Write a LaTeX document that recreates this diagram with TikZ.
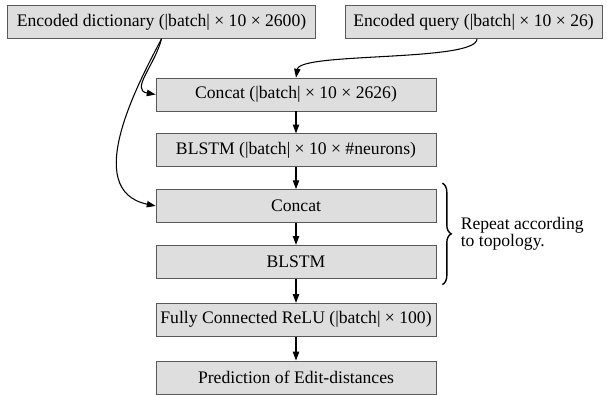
\documentclass[tikz,border=0pt]{standalone}
\usepackage{fontspec}
\setmainfont{Liberation Serif}
\usetikzlibrary{positioning, arrows.meta, calc, decorations.pathreplacing}

\begin{document}
\begin{tikzpicture}[
  x=0.567pt, y=-0.567pt,
  font=\normalsize,
  >={Triangle[length=5pt,width=3.6pt]},
  layerbox/.style={rectangle, draw=black!65, fill=black!13, minimum width=158.8pt, minimum height=18.7pt, inner sep=2pt, align=center},
  inputbox/.style={layerbox, minimum width=175pt},
  flowarrow/.style={->, draw=black, semithick},
]

% Inputs
\node[inputbox] (EncDict) at (161.5,22) {Encoded dictionary (|batch| × 10 × 2600)};
\node[inputbox, minimum width=145.7pt] (EncQuery) at (473.5,22) {Encoded query (|batch| × 10 × 26)};

% Layer stack
\node[layerbox] (ConcatA) at (296,94.5) {Concat (|batch| × 10 × 2626)};
\node[layerbox, below=12.5pt of ConcatA] (BlstmA) {BLSTM (|batch| × 10 × \#neurons)};
\node[layerbox, below=12.5pt of BlstmA] (ConcatB) {Concat};
\node[layerbox, below=12.5pt of ConcatB] (BlstmB) {BLSTM};
\node[layerbox, below=13.8pt of BlstmB] (FcRelu) {Fully Connected ReLU (|batch| × 100)};
\node[layerbox, below=13.6pt of FcRelu] (Predict) {Prediction of Edit-distances};

% Repeat brace
\draw[decorate, decoration={brace, amplitude=5pt}, thick]
  ([xshift=3.4pt, yshift=3.4pt]ConcatB.north east) -- ([xshift=3.4pt, yshift=-3.4pt]BlstmB.south east);
\node[anchor=west, align=left, inner sep=0pt] (RepeatNote) at ($(ConcatB.north east)!0.5!(BlstmB.south east) + (24,0)$) {Repeat according\\[-2.5pt]to topology.};

% Routing from inputs
\draw[flowarrow] (EncDict.south) .. controls (155,65) and (130,90) .. (ConcatA.west);
\draw[flowarrow] (EncDict.south) .. controls (140,80) and (80,190) .. (ConcatB.west);
\draw[flowarrow] ([xshift=2pt]EncQuery.south) .. controls (477,62) and (300,52) .. (ConcatA.north);

% Routing down the stack
\draw[flowarrow] (ConcatA) -- (BlstmA);
\draw[flowarrow] (BlstmA) -- (ConcatB);
\draw[flowarrow] (ConcatB) -- (BlstmB);
\draw[flowarrow] (BlstmB) -- (FcRelu);
\draw[flowarrow] (FcRelu) -- (Predict);

\useasboundingbox (0,0) rectangle (607,389);
\end{tikzpicture}
\end{document}
